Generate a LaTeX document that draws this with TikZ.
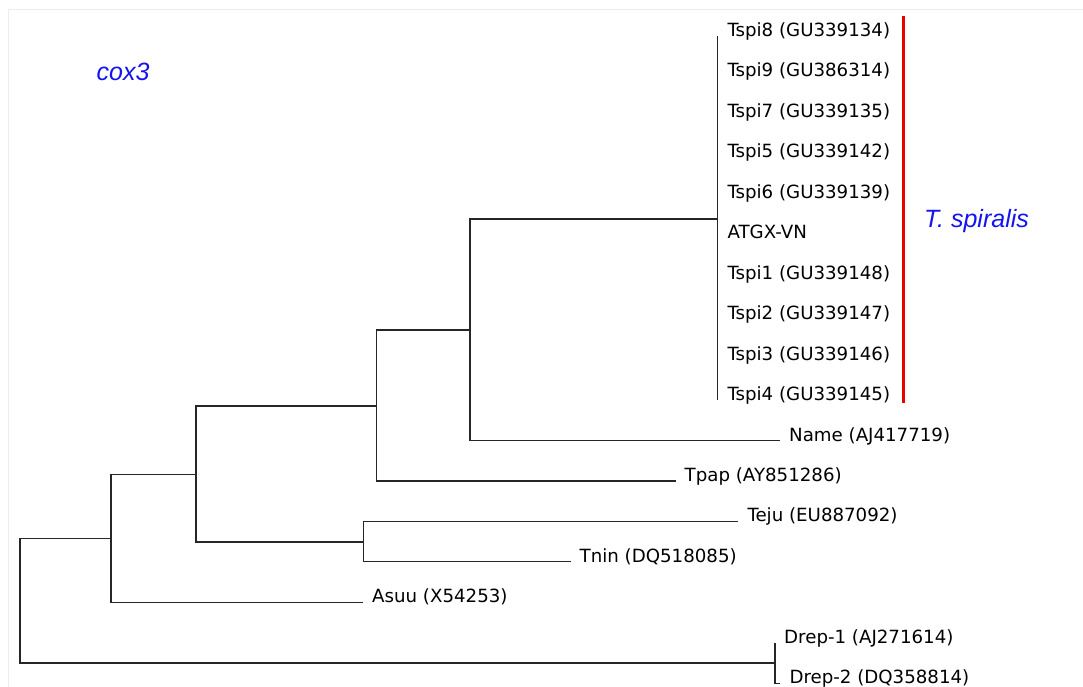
\documentclass[tikz,border=0pt]{standalone}
\usepackage{fontspec}
\setmainfont{DejaVu Sans}
\newfontfamily\arialfont{Liberation Sans}
\definecolor{lblblue}{RGB}{20,20,240}
\definecolor{barred}{RGB}{235,0,0}
\definecolor{framegray}{RGB}{236,236,236}
\begin{document}
\begin{tikzpicture}[x=1pt,y=-1pt,
  branch/.style={draw=black!85, line width=1.1pt},
  leaf/.style={anchor=base west, inner sep=0pt, font=\fontsize{18.2}{20}\selectfont, text=black},
  cladelbl/.style={anchor=base west, inner sep=0pt, font=\arialfont\itshape\fontsize{25}{28}\selectfont, text=lblblue}]
\fill[white] (0,0) rectangle (1083,687);
\useasboundingbox (0,0) rectangle (1083,687);
% light frame
\draw[framegray, line width=1pt] (8.3,687) -- (8.3,9.5) -- (1083,9.5);

% T. spiralis clade leaves
\foreach \k/\txt in {0/{Tspi8 (GU339134)},1/{Tspi9 (GU386314)},2/{Tspi7 (GU339135)},3/{Tspi5 (GU339142)},4/{Tspi6 (GU339139)},5/{ATGX-VN},6/{Tspi1 (GU339148)},7/{Tspi2 (GU339147)},8/{Tspi3 (GU339146)},9/{Tspi4 (GU339145)}}{
  \coordinate (s\k) at (717.7,36+40.45*\k);
  \node[leaf] (ts\k) at (727.3,36.5+40.45*\k) {\txt};
}
% other leaves
\coordinate (lName) at (780,440.5);
\node[leaf] (tName) at (789,441) {Name (AJ417719)};
\coordinate (lTpap) at (675.7,481);
\node[leaf] (tTpap) at (684.5,481.5) {Tpap (AY851286)};
\coordinate (lTeju) at (738.3,521.4);
\node[leaf] (tTeju) at (747.3,521.9) {Teju (EU887092)};
\coordinate (lTnin) at (570.7,561.9);
\node[leaf] (tTnin) at (579.5,562.4) {Tnin (DQ518085)};
\coordinate (lAsuu) at (362.7,602.3);
\node[leaf] (tAsuu) at (372,602.8) {Asuu (X54253)};
\coordinate (lD1) at (775,642.8);
\node[leaf] (tD1) at (784,643.3) {Drep-1 (AJ271614)};
\coordinate (lD2) at (780,683.2);
\node[leaf] (tD2) at (789.3,683.7) {Drep-2 (DQ358814)};

% internal nodes
\coordinate (nT) at (717.7,219);
\coordinate (n5) at (470,330);
\coordinate (n4) at (376.7,406);
\coordinate (n6) at (363.3,542);
\coordinate (n3) at (196,474.7);
\coordinate (n2) at (111,538.5);
\coordinate (nD) at (775,663);
\coordinate (root) at (20,600);

% branches
\draw[branch] (s0) -- (s9);
\draw[branch] (n5) |- (nT);
\draw[branch] (n5) |- (lName);
\draw[branch] (n4) |- (n5);
\draw[branch] (n4) |- (lTpap);
\draw[branch] (n6) |- (lTeju);
\draw[branch] (n6) |- (lTnin);
\draw[branch] (n3) |- (n4);
\draw[branch] (n3) |- (n6);
\draw[branch] (n2) |- (n3);
\draw[branch] (n2) |- (lAsuu);
\draw[branch] (root) |- (n2);
\draw[branch] (root) |- (nD);
\draw[branch] (nD) |- (lD1);
\draw[branch] (nD) |- (lD2);

% red bar and clade labels
\coordinate (barTop) at (903.5,16);
\coordinate (barBot) at (903.5,403.3);
\draw[barred, line width=3.3pt] (barTop) -- (barBot);
\node[cladelbl] (tspir) at (924,227) {T. spiralis};
\node[cladelbl] (cox) at (96.5,81) {cox3};
\end{tikzpicture}
\end{document}
